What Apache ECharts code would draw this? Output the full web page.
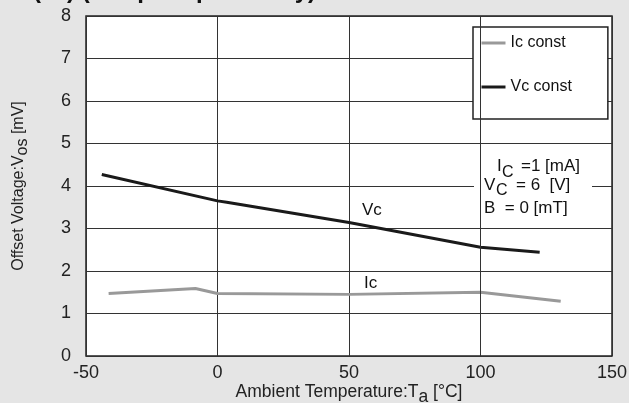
<!DOCTYPE html>
<html><head><meta charset="utf-8">
<script src="https://cdn.jsdelivr.net/npm/echarts@6/dist/echarts.min.js"></script>
<style>html,body{margin:0;padding:0;background:#e5e5e5;}#c{width:629px;height:403px;}</style>
</head><body><div id="c"></div>
<script>
// Data
const xTicks = [-50, 0, 50, 100, 150];
const yTicks = [0, 1, 2, 3, 4, 5, 6, 7, 8];
const tempVc = [-44, 0, 3.5, 50, 100, 122.5];
const vcConst = [4.27, 3.65, 3.62, 3.14, 2.56, 2.44];
const tempIc = [-41.4, -8.4, 0, 50, 100, 130.5];
const icConst = [1.47, 1.59, 1.47, 1.45, 1.50, 1.29];
const seriesNames = ['Ic const', 'Vc const'];

const FONT = 'Liberation Sans, Arial, Helvetica, sans-serif';
const chart = echarts.init(document.getElementById('c'), null, {renderer: 'canvas'});
const pair = (xs, ys) => xs.map((x, i) => [x, ys[i]]);

chart.setOption({
  backgroundColor: '#e5e5e5',
  animation: false,
  textStyle: {fontFamily: FONT},
  grid: {left: 86, right: 17, top: 16, bottom: 47, containLabel: false, outerBoundsMode: 'none',
    show: true, backgroundColor: '#fff', borderColor: '#222', borderWidth: 1.5},
  xAxis: {
    type: 'value', min: xTicks[0], max: xTicks[xTicks.length - 1], interval: 50,
    axisLine: {show: false}, axisTick: {show: false},
    splitLine: {show: true, lineStyle: {color: '#333', width: 1}},
    axisLabel: {color: '#222', fontSize: 18, fontFamily: FONT, margin: 8},
    name: 'Ambient Temperature:T{sub|a} [°C]', nameLocation: 'middle', nameGap: 23, nameMoveOverlap: false,
    nameTextStyle: {color: '#222', fontSize: 17.5, fontFamily: FONT,
      rich: {sub: {fontSize: 17.5, fontFamily: FONT, color: '#222', padding: [9, 0, 0, 0]}}}
  },
  yAxis: {
    type: 'value', min: yTicks[0], max: yTicks[yTicks.length - 1], interval: 1,
    axisLine: {show: false}, axisTick: {show: false},
    splitLine: {show: true, lineStyle: {color: '#333', width: 1}},
    axisLabel: {color: '#222', fontSize: 18, fontFamily: FONT, margin: 15},
    name: 'Offset Voltage:V{sub|os} [mV]', nameLocation: 'middle', nameGap: 55, nameMoveOverlap: false,
    nameTextStyle: {color: '#222', fontSize: 16, fontFamily: FONT,
      rich: {sub: {fontSize: 16, fontFamily: FONT, color: '#222', padding: [8, 0, 0, 0]}}}
  },
  legend: {
    orient: 'vertical', left: 473, top: 27,
    backgroundColor: '#fff', borderColor: '#222', borderWidth: 1.5,
    padding: [8, 36, 24, 7], itemWidth: 24, itemHeight: 14, itemGap: 28,
    itemStyle: {opacity: 0}, lineStyle: {width: 3},
    textStyle: {fontSize: 16, color: '#111', fontFamily: FONT},
    data: seriesNames
  },
  series: [
    {name: seriesNames[0], type: 'line', symbol: 'none', data: pair(tempIc, icConst),
     lineStyle: {color: '#999', width: 3}, itemStyle: {color: '#999'}, z: 3},
    {name: seriesNames[1], type: 'line', symbol: 'none', data: pair(tempVc, vcConst),
     lineStyle: {color: '#1a1a1a', width: 3}, itemStyle: {color: '#1a1a1a'}, z: 3,
     markLine: {silent: true, symbol: 'none', label: {show: false},
       lineStyle: {color: '#333', width: 1, type: 'solid'}, data: [{xAxis: 100}]}}
  ],
  graphic: [
    {type: 'text', left: -16, top: -21, z: 10,
     style: {text: 'Vos (Ta) (Temp. Dependency)', fontSize: 24, fontWeight: 'bold', fill: '#111', fontFamily: FONT}},
    {type: 'rect', shape: {x: 474, y: 150, width: 118, height: 74}, style: {fill: '#fff'}, z: 1},
    {type: 'text', x: 497, y: 166, z: 5, style: {text: 'I', fontSize: 17, fill: '#111', fontFamily: FONT, verticalAlign: 'middle'}},
    {type: 'text', x: 502, y: 173, z: 5, style: {text: 'C', fontSize: 16, fill: '#111', fontFamily: FONT, verticalAlign: 'middle'}},
    {type: 'text', x: 521, y: 166, z: 5, style: {text: '=1 [mA]', fontSize: 17, fill: '#111', fontFamily: FONT, verticalAlign: 'middle'}},
    {type: 'text', x: 484, y: 185, z: 5, style: {text: 'V', fontSize: 17, fill: '#111', fontFamily: FONT, verticalAlign: 'middle'}},
    {type: 'text', x: 496, y: 191, z: 5, style: {text: 'C', fontSize: 16, fill: '#111', fontFamily: FONT, verticalAlign: 'middle'}},
    {type: 'text', x: 516, y: 185, z: 5, style: {text: '= 6  [V]', fontSize: 17, fill: '#111', fontFamily: FONT, verticalAlign: 'middle'}},
    {type: 'text', x: 484, y: 208, z: 5, style: {text: 'B  = 0 [mT]', fontSize: 17, fill: '#111', fontFamily: FONT, verticalAlign: 'middle'}},
    {type: 'text', x: 362, y: 210, z: 5, style: {text: 'Vc', fontSize: 17, fill: '#111', fontFamily: FONT, verticalAlign: 'middle'}},
    {type: 'text', x: 364, y: 283, z: 5, style: {text: 'Ic', fontSize: 17, fill: '#111', fontFamily: FONT, verticalAlign: 'middle'}}
  ]
});
</script></body></html>
